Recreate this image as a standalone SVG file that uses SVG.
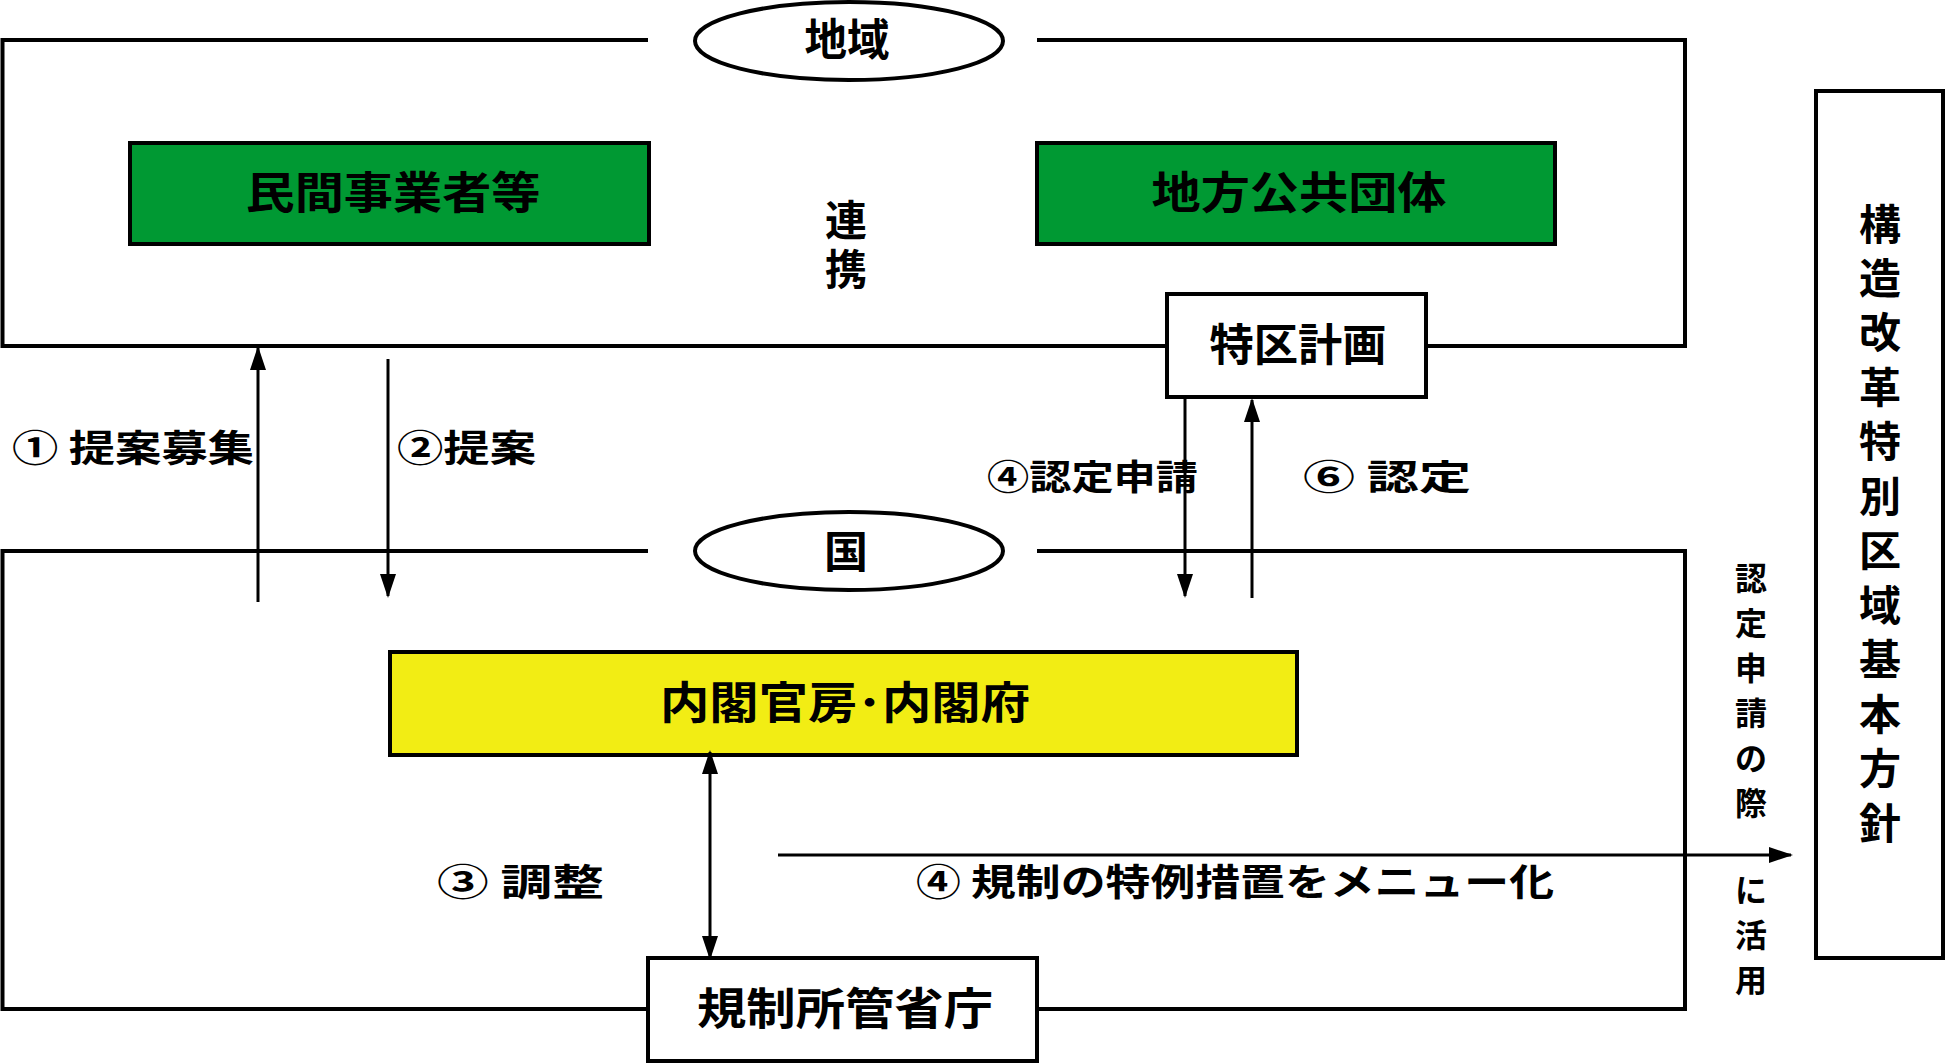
<svg xmlns="http://www.w3.org/2000/svg" width="1946" height="1063" viewBox="0 0 1946 1063">
<style>
text{font-family:"Noto Sans CJK JP","Noto Sans CJK SC",sans-serif;font-weight:bold;fill:#000}
.b{fill:none;stroke:#000;stroke-width:4}
.g{fill:#009933;stroke:#000;stroke-width:4}
.y{fill:#f2ed14;stroke:#000;stroke-width:4}
.w{fill:#fff;stroke:#000;stroke-width:4}
.l{stroke:#000;stroke-width:3;fill:none}
.t{font-size:44px;text-anchor:middle}
.v{font-size:42px;text-anchor:middle}
.s{font-size:37px}
</style>
<defs>
<marker id="m" viewBox="0 0 24 24" refX="22" refY="12" markerWidth="24" markerHeight="24" markerUnits="userSpaceOnUse" orient="auto-start-reverse"><path d="M0,4 L24,12 L0,20 z" fill="#000"/></marker>
</defs>
<g id="region">
<path class="b" d="M648,40 H2.5 V346 H1685 V40 H1037"/>
<ellipse class="w" cx="849" cy="41" rx="154" ry="39"/>
<text class="t" x="847" y="56" textLength="85" lengthAdjust="spacingAndGlyphs">地域</text>
<text class="v" x="846" y="236">連</text>
<text class="v" x="846" y="285">携</text>
</g>
<g id="country">
<path class="b" d="M648,551 H2.5 V1009 H1685 V551 H1037"/>
<ellipse class="w" cx="849" cy="551" rx="154" ry="39"/>
<text class="t" x="846" y="568">国</text>
</g>
<g id="private"><rect class="g" x="130" y="143" width="519" height="101"/><text class="t" x="393" y="209" textLength="295" lengthAdjust="spacingAndGlyphs">民間事業者等</text></g>
<g id="local"><rect class="g" x="1037" y="143" width="518" height="101"/><text class="t" x="1299" y="209" textLength="295" lengthAdjust="spacingAndGlyphs">地方公共団体</text></g>
<g id="plan"><rect class="w" x="1167" y="294" width="259" height="103"/><text class="t" x="1298" y="361" textLength="177" lengthAdjust="spacingAndGlyphs">特区計画</text></g>
<g id="cabinet"><rect class="y" x="390" y="652" width="907" height="103"/><text class="t" x="845" y="719" textLength="370" lengthAdjust="spacingAndGlyphs">内閣官房･内閣府</text></g>
<g id="ministry"><rect class="w" x="648" y="958" width="389" height="103"/><text class="t" x="845" y="1025" textLength="296" lengthAdjust="spacingAndGlyphs">規制所管省庁</text></g>
<g id="policy"><rect class="w" x="1816" y="91" width="127" height="867"/>
<text class="v" x="1880" y="240">構</text><text class="v" x="1880" y="294">造</text><text class="v" x="1880" y="348">改</text><text class="v" x="1880" y="403">革</text><text class="v" x="1880" y="457">特</text><text class="v" x="1880" y="512">別</text><text class="v" x="1880" y="566">区</text><text class="v" x="1880" y="621">域</text><text class="v" x="1880" y="675">基</text><text class="v" x="1880" y="730">本</text><text class="v" x="1880" y="784">方</text><text class="v" x="1880" y="839">針</text>
</g>
<g id="connectors">
<line class="l" x1="258" y1="602" x2="258" y2="348" marker-end="url(#m)"/>
<line class="l" x1="388" y1="359" x2="388" y2="596" marker-end="url(#m)"/>
<line class="l" x1="1185" y1="395" x2="1185" y2="596" marker-end="url(#m)"/>
<line class="l" x1="1252" y1="598" x2="1252" y2="400" marker-end="url(#m)"/>
<line class="l" x1="710" y1="752" x2="710" y2="958" marker-start="url(#m)" marker-end="url(#m)"/>
<line class="l" x1="778" y1="855" x2="1791" y2="855" marker-end="url(#m)"/>
</g>
<g id="labels">
<text class="s" x="12" y="462" textLength="242" lengthAdjust="spacingAndGlyphs">①  提案募集</text>
<text class="s" x="397" y="462" textLength="139" lengthAdjust="spacingAndGlyphs">②提案</text>
<text style="font-size:35px" x="987" y="490" textLength="211" lengthAdjust="spacingAndGlyphs">④認定申請</text>
<text style="font-size:35px" x="1303" y="490" textLength="168" lengthAdjust="spacingAndGlyphs">⑥  認定</text>
<text class="s" x="437" y="896" textLength="167" lengthAdjust="spacingAndGlyphs">③  調整</text>
<text class="s" x="916" y="896" textLength="638" lengthAdjust="spacingAndGlyphs">④  規制の特例措置をメニュー化</text>
<g style="font-size:32px;text-anchor:middle">
<text x="1751" y="590">認</text><text x="1751" y="635">定</text><text x="1751" y="680">申</text><text x="1751" y="725">請</text><text x="1751" y="770">の</text><text x="1751" y="815">際</text>
<text x="1751" y="902">に</text><text x="1751" y="947">活</text><text x="1751" y="992">用</text>
</g>
</g>
</svg>
